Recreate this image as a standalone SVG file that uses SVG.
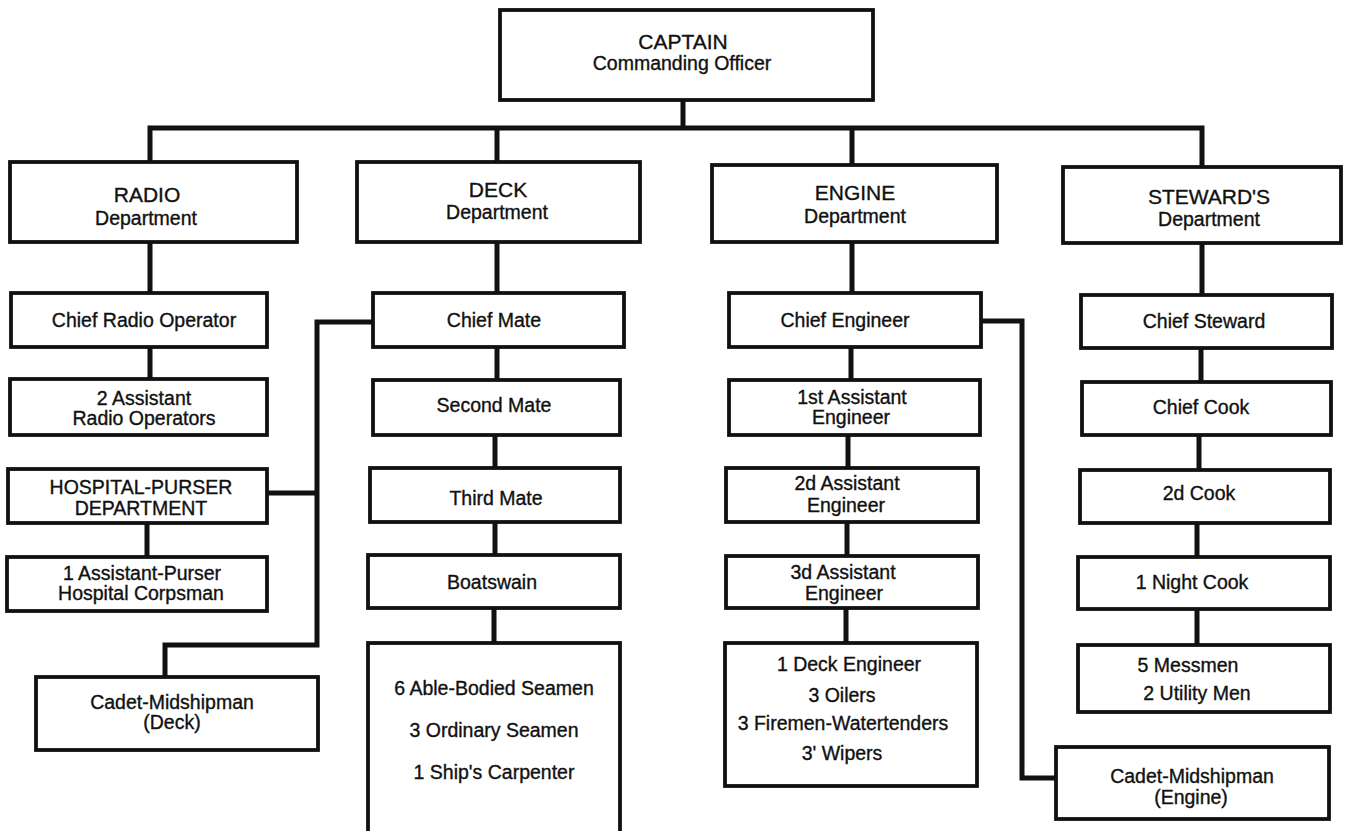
<svg xmlns="http://www.w3.org/2000/svg" width="1346" height="831" viewBox="0 0 1346 831">
<style>
.box{fill:#fff;stroke:#111;stroke-width:3.8}
.ln{fill:none;stroke:#111;stroke-width:5;stroke-linejoin:miter;stroke-linecap:square}
text{font-family:"Liberation Sans",Arial,sans-serif;font-size:19.5px;fill:#111;stroke:#111;stroke-width:0.35;text-anchor:middle}
.t{font-size:21px}
</style>
<rect width="1346" height="831" fill="#fff"/>
<g id="connectors">
<path class="ln" d="M683,100 V128 M150,128 H1202 M150,128 V162 M497,128 V162 M852,128 V165 M1202,128 V167"/>
<path class="ln" d="M150,242 V293 M150,347 V379 M147,523 V557"/>
<path class="ln" d="M373,322 H317 V645 H165 V677 M267,493 H317"/>
<path class="ln" d="M497,242 V293 M497,347 V380 M495,435 V468 M495,522 V555 M494,608 V643"/>
<path class="ln" d="M852,242 V293 M851,347 V380 M848,435 V468 M847,522 V556 M846,608 V643"/>
<path class="ln" d="M981,321 H1022 V778 H1056"/>
<path class="ln" d="M1202,243 V295 M1201,348 V382 M1199,435 V470 M1197,523 V557 M1197,609 V645"/>
</g>
<g id="captain"><rect class="box" x="500" y="10" width="373" height="90"/><text class="t" x="683" y="49">CAPTAIN</text><text x="682" y="70">Commanding Officer</text></g>
<g id="radio"><rect class="box" x="10" y="162" width="287" height="80"/><text class="t" x="147" y="202">RADIO</text><text x="146" y="225">Department</text></g>
<g id="deck"><rect class="box" x="357" y="162" width="283" height="80"/><text class="t" x="498" y="197">DECK</text><text x="497" y="219">Department</text></g>
<g id="engine"><rect class="box" x="712" y="165" width="285" height="77"/><text class="t" x="855" y="200">ENGINE</text><text x="855" y="223">Department</text></g>
<g id="stewards"><rect class="box" x="1063" y="167" width="278" height="76"/><text class="t" x="1209" y="204">STEWARD'S</text><text x="1209" y="226">Department</text></g>
<g id="chief-radio"><rect class="box" x="11" y="293" width="256" height="54"/><text x="144" y="327">Chief Radio Operator</text></g>
<g id="asst-radio"><rect class="box" x="10" y="379" width="257" height="56"/><text x="144" y="405">2 Assistant</text><text x="144" y="425">Radio Operators</text></g>
<g id="hospital"><rect class="box" x="8" y="469" width="259" height="54"/><text x="141" y="494">HOSPITAL-PURSER</text><text x="141" y="515">DEPARTMENT</text></g>
<g id="asst-purser"><rect class="box" x="7" y="557" width="260" height="54"/><text x="142" y="580">1 Assistant-Purser</text><text x="141" y="600">Hospital Corpsman</text></g>
<g id="cadet-deck"><rect class="box" x="36" y="677" width="282" height="73"/><text x="172" y="709">Cadet-Midshipman</text><text x="172" y="729">(Deck)</text></g>
<g id="chief-mate"><rect class="box" x="373" y="293" width="251" height="54"/><text x="494" y="327">Chief Mate</text></g>
<g id="second-mate"><rect class="box" x="373" y="380" width="247" height="55"/><text x="494" y="412">Second Mate</text></g>
<g id="third-mate"><rect class="box" x="370" y="468" width="250" height="54"/><text x="496" y="505">Third Mate</text></g>
<g id="boatswain"><rect class="box" x="368" y="555" width="252" height="53"/><text x="492" y="589">Boatswain</text></g>
<g id="seamen"><rect class="box" x="368" y="643" width="252" height="200"/><text x="494" y="695">6 Able-Bodied Seamen</text><text x="494" y="737">3 Ordinary Seamen</text><text x="494" y="779">1 Ship's Carpenter</text></g>
<g id="chief-engineer"><rect class="box" x="729" y="293" width="252" height="54"/><text x="845" y="327">Chief Engineer</text></g>
<g id="first-asst"><rect class="box" x="729" y="380" width="251" height="55"/><text x="852" y="404">1st Assistant</text><text x="851" y="424">Engineer</text></g>
<g id="second-asst"><rect class="box" x="726" y="468" width="252" height="54"/><text x="847" y="490">2d Assistant</text><text x="846" y="512">Engineer</text></g>
<g id="third-asst"><rect class="box" x="726" y="556" width="252" height="52"/><text x="843" y="579">3d Assistant</text><text x="844" y="600">Engineer</text></g>
<g id="engine-crew"><rect class="box" x="725" y="643" width="252" height="143"/><text x="849" y="671">1 Deck Engineer</text><text x="842" y="702">3 Oilers</text><text x="843" y="730">3 Firemen-Watertenders</text><text x="842" y="760">3' Wipers</text></g>
<g id="cadet-engine"><rect class="box" x="1056" y="747" width="273" height="72"/><text x="1192" y="783">Cadet-Midshipman</text><text x="1191" y="804">(Engine)</text></g>
<g id="chief-steward"><rect class="box" x="1081" y="295" width="251" height="53"/><text x="1204" y="328">Chief Steward</text></g>
<g id="chief-cook"><rect class="box" x="1082" y="382" width="249" height="53"/><text x="1201" y="414">Chief Cook</text></g>
<g id="second-cook"><rect class="box" x="1080" y="470" width="250" height="53"/><text x="1199" y="500">2d Cook</text></g>
<g id="night-cook"><rect class="box" x="1078" y="557" width="252" height="52"/><text x="1192" y="589">1 Night Cook</text></g>
<g id="messmen"><rect class="box" x="1078" y="645" width="252" height="67"/><text x="1188" y="672">5 Messmen</text><text x="1197" y="700">2 Utility Men</text></g>
</svg>
